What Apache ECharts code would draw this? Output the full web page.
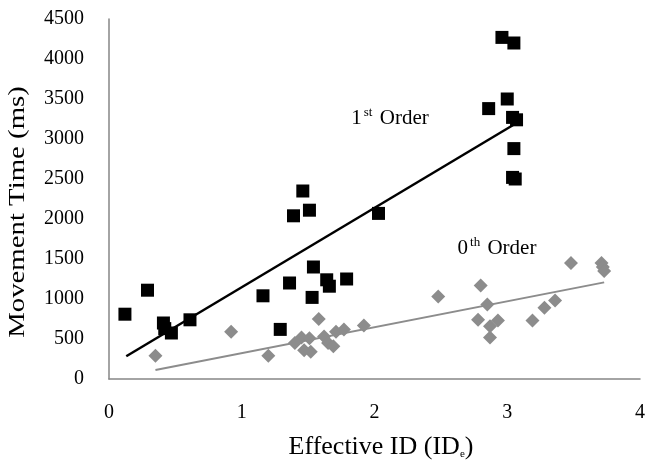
<!DOCTYPE html>
<html>
<head>
<meta charset="utf-8">
<script src="https://cdn.jsdelivr.net/npm/echarts@6/dist/echarts.min.js"></script>
<style>
html,body{margin:0;padding:0;background:#fff;}
#main{width:648px;height:463px;}
</style>
</head>
<body>
<div id="main"></div>
<script>
// 1st order trials (Effective ID, movement time ms)
var firstOrder = [
	[0.12, 810], [0.29, 1110], [0.41, 700], [0.42, 630], [0.47, 575], [0.61, 740],
	[1.16, 1040], [1.29, 620], [1.36, 1200], [1.39, 2040], [1.46, 2350], [1.51, 2110],
	[1.53, 1020], [1.54, 1400], [1.64, 1240], [1.66, 1160], [1.79, 1250], [2.03, 2070],
	[2.86, 3380], [2.96, 4270], [3.00, 3500], [3.05, 4200], [3.04, 3270], [3.07, 3240],
	[3.05, 2880], [3.04, 2520], [3.06, 2500]
];
// 0th order trials
var zeroOrder = [
	[0.35, 290], [0.92, 590], [1.20, 290], [1.40, 450], [1.45, 520], [1.47, 360],
	[1.51, 510], [1.52, 340], [1.58, 750], [1.62, 530], [1.65, 450], [1.69, 410],
	[1.71, 590], [1.77, 620], [1.92, 670], [2.48, 1030], [2.78, 740], [2.80, 1170],
	[2.85, 930], [2.87, 660], [2.87, 520], [2.93, 730], [3.19, 730], [3.28, 890],
	[3.36, 980], [3.48, 1450], [3.71, 1450], [3.72, 1400], [3.73, 1350]
];
// linear trend lines, end points
var firstFit = [[0.13, 284], [3.07, 3200]];
var zeroFit = [[0.35, 113], [3.73, 1208]];

var font = 'Liberation Serif';

var myChart = echarts.init(document.getElementById('main'));

var option = {
	animation: false,
	backgroundColor: '#fff',
	grid: {
		left: 109,
		right: 8,
		top: 19,
		bottom: 84
	},
	xAxis: {
		type: 'value',
		min: 0,
		max: 4,
		interval: 1,
		axisLine: { lineStyle: { color: '#868686', width: 1.5 } },
		axisTick: { show: false },
		splitLine: { show: false },
		axisLabel: { color: '#000', fontFamily: font, fontSize: 20, margin: 24 }
	},
	yAxis: {
		type: 'value',
		min: 0,
		max: 4500,
		interval: 500,
		axisLine: { show: true, lineStyle: { color: '#868686', width: 1.5 } },
		axisTick: { show: false },
		splitLine: { show: false },
		axisLabel: {
			color: '#000', fontFamily: font, fontSize: 20, margin: 25,
			formatter: function(v){ return String(v); }
		}
	},
	graphic: [
		{
			type: 'text',
			x: 18,
			y: 212,
			rotation: Math.PI / 2,
			scaleX: 1.2,
			style: {
				text: 'Movement Time (ms)',
				fill: '#000',
				font: '24px "Liberation Serif"',
				align: 'center',
				verticalAlign: 'middle'
			}
		},
		{
			type: 'text',
			x: 381,
			y: 447,
			style: {
				text: 'Effective ID (ID{s|e})',
				fill: '#000',
				fontFamily: font,
				fontSize: 26,
				align: 'center',
				verticalAlign: 'middle',
				rich: {
					s: { fontFamily: font, fontSize: 11, verticalAlign: 'bottom', padding: [12, 0, 0, 0] }
				}
			}
		},
		{
			type: 'text',
			x: 390,
			y: 118,
			style: {
				text: '{n|1}{s|st}{n| Order}',
				align: 'center',
				verticalAlign: 'middle',
				rich: {
					n: { fontFamily: font, fontSize: 21, fill: '#000' },
					s: { fontFamily: font, fontSize: 13, fill: '#000', verticalAlign: 'top', padding: [0, 2, 10, 2] }
				}
			}
		},
		{
			type: 'text',
			x: 497,
			y: 248,
			style: {
				text: '{n|0}{s|th}{n| Order}',
				align: 'center',
				verticalAlign: 'middle',
				rich: {
					n: { fontFamily: font, fontSize: 21, fill: '#000' },
					s: { fontFamily: font, fontSize: 13, fill: '#000', verticalAlign: 'top', padding: [0, 2, 10, 2] }
				}
			}
		}
	],
	series: [
		{
			name: '1st fit',
			type: 'line',
			data: firstFit,
			symbol: 'none',
			lineStyle: { color: '#000', width: 2.5 },
			z: 1
		},
		{
			name: '0th fit',
			type: 'line',
			data: zeroFit,
			symbol: 'none',
			lineStyle: { color: '#8c8c8c', width: 2 },
			z: 1
		},
		{
			name: '1st Order',
			type: 'scatter',
			data: firstOrder,
			symbol: 'rect',
			symbolSize: 13,
			itemStyle: { color: '#000', opacity: 1 },
			z: 3
		},
		{
			name: '0th Order',
			type: 'scatter',
			data: zeroOrder,
			symbol: 'diamond',
			symbolSize: 14,
			itemStyle: { color: '#8c8c8c', opacity: 1 },
			z: 2
		}
	]
};

myChart.setOption(option);
</script>
</body>
</html>
